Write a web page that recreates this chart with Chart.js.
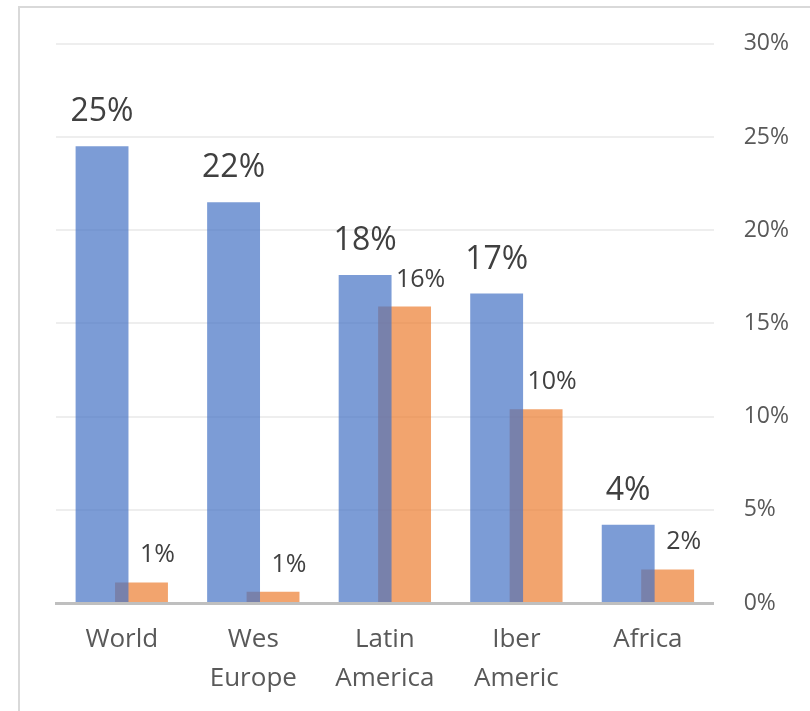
<!DOCTYPE html>
<html>
<head>
<meta charset="utf-8">
<script src="https://cdn.jsdelivr.net/npm/chart.js@4.4.1/dist/chart.umd.min.js"></script>
<style>
  html, body { margin: 0; padding: 0; background: #fff; overflow: hidden; }
  #wrap { position: relative; width: 810px; height: 711px; }
  #frame { position: absolute; left: 18px; top: 6px; width: 900px; height: 800px;
           border-left: 2px solid #d9d9d9; border-top: 2px solid #d9d9d9; }
  canvas { position: absolute; left: 0; top: 0; }
</style>
</head>
<body>
<div id="wrap">
  <div id="frame"></div>
  <canvas id="chart0" width="810" height="711"></canvas>
</div>
<script>
var categories = [["World"], ["Wes", "Europe"], ["Latin", "America"], ["Iber", "Americ"], ["Africa"]];
var blueValues = [24.5, 21.5, 17.6, 16.6, 4.2];
var orangeValues = [1.1, 0.6, 15.9, 10.4, 1.8];
var blueLabels = ["25%", "22%", "18%", "17%", "4%"];
var orangeLabels = ["1%", "1%", "16%", "10%", "2%"];
var yTicks = [0, 5, 10, 15, 20, 25, 30];

document.addEventListener("DOMContentLoaded", function() {
  var ctx = document.getElementById("chart0").getContext("2d");

  // draws the value labels above each bar
  var valueLabels = {
    id: "valueLabels",
    afterDatasetsDraw: function(chart) {
      var c = chart.ctx;
      c.save();
      c.fillStyle = "#404040";
      c.textBaseline = "alphabetic";
      c.textAlign = "center";
      chart.getDatasetMeta(0).data.forEach(function(bar, i) {
        c.font = "32px 'Open Sans'";
        c.fillText(blueLabels[i], bar.x, bar.y - 25);
      });
      chart.getDatasetMeta(1).data.forEach(function(bar, i) {
        c.font = "25px 'Open Sans'";
        c.fillText(orangeLabels[i], bar.x + 16, bar.y - 20);
      });
      c.restore();
    }
  };

  var chart0 = new Chart(ctx, {
    type: "bar",
    data: {
      labels: categories,
      datasets: [
        {
          label: "Blue",
          data: blueValues,
          backgroundColor: "rgba(68, 114, 196, 0.7)",
          categoryPercentage: 0.6,
          barPercentage: 1.34
        },
        {
          label: "Orange",
          data: orangeValues,
          backgroundColor: "rgba(237, 125, 49, 0.7)",
          categoryPercentage: 0.6,
          barPercentage: 1.34
        }
      ]
    },
    options: {
      responsive: false,
      animation: false,
      layout: { padding: { left: 56, right: -9, top: 43, bottom: 4 } },
      plugins: {
        legend: { display: false },
        tooltip: { enabled: false }
      },
      scales: {
        x: {
          grid: { display: false },
          border: { display: true, color: "#bfbfbf", width: 3 },
          ticks: {
            color: "#595959",
            font: { family: "'Open Sans'", size: 26, lineHeight: 1.5 },
            padding: 9,
            maxRotation: 0,
            autoSkip: false
          }
        },
        y: {
          position: "right",
          min: 0,
          max: 30,
          afterBuildTicks: function(axis) {
            axis.ticks = yTicks.map(function(v) { return { value: v }; });
          },
          grid: { color: "#eeeeee", lineWidth: 2, drawTicks: false },
          border: { display: false },
          ticks: {
            color: "#595959",
            font: { family: "'Open Sans'", size: 23 },
            padding: 30,
            callback: function(v) { return v + "%"; }
          }
        }
      }
    },
    plugins: [valueLabels]
  });
});
</script>
</body>
</html>
